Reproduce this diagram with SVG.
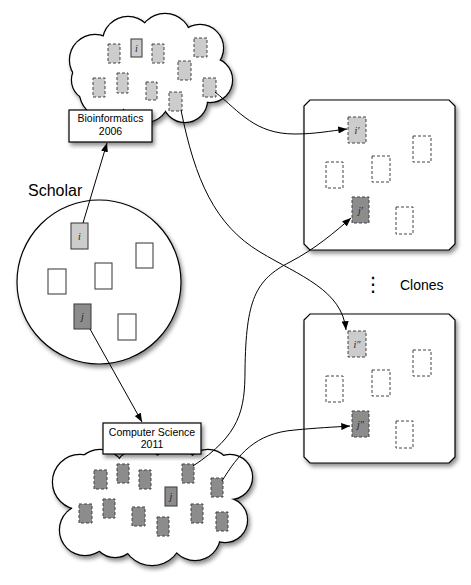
<svg xmlns="http://www.w3.org/2000/svg" xmlns:xlink="http://www.w3.org/1999/xlink" width="471" height="585" viewBox="0 0 471 585">
<style>
  .bg{fill:#fff}
  .cs{fill:#fff;stroke:#000;stroke-width:2.4}
  .cf{fill:#fff;stroke:none}
  .node{fill:#fff;stroke:#000;stroke-width:1.2}
  .sol{stroke:#444;stroke-width:1.1}
  .dash{stroke:#444;stroke-width:1;stroke-dasharray:3 2}
  .lg{fill:#cccccc}
  .dg{fill:#8c8c8c}
  .wh{fill:#fff}
  .nf{fill:none}
  .lbl{font-family:"Liberation Serif","Times New Roman",serif;font-style:italic;font-size:10px;fill:#222;text-anchor:middle}
  .box{font-family:"Liberation Sans",Arial,sans-serif;font-size:10.5px;fill:#000;text-anchor:middle}
  .big{font-family:"Liberation Sans",Arial,sans-serif;font-size:16px;fill:#000}
  .conn{fill:none;stroke:#000;stroke-width:1}
</style>
<defs>
  <filter id="sh" x="-20%" y="-20%" width="140%" height="140%">
    <feDropShadow dx="2" dy="3" stdDeviation="2" flood-color="#000" flood-opacity="0.45"/>
  </filter>
  <marker id="ah" viewBox="0 0 10 8" refX="10" refY="4" markerWidth="9" markerHeight="7" markerUnits="userSpaceOnUse" orient="auto">
    <path d="M0,0 L10,4 L0,8 z" fill="#000"/>
  </marker>
  <g id="topCloudShape">
    <circle cx="95" cy="60" r="25"/>
    <circle cx="128" cy="42" r="25"/>
    <circle cx="165" cy="40" r="26"/>
    <circle cx="200" cy="48" r="23"/>
    <circle cx="210" cy="80" r="22"/>
    <circle cx="185" cy="100" r="22"/>
    <circle cx="145" cy="98" r="24"/>
    <circle cx="105" cy="92" r="25"/>
    <circle cx="92" cy="80" r="20"/>
    <ellipse cx="150" cy="70" rx="55" ry="30"/>
  </g>
  <g id="botCloudShape">
    <circle cx="80" cy="482" r="27"/>
    <circle cx="85" cy="530" r="25"/>
    <circle cx="115" cy="535" r="22"/>
    <circle cx="152" cy="535" r="30"/>
    <circle cx="195" cy="535" r="25"/>
    <circle cx="225" cy="520" r="22"/>
    <circle cx="230" cy="477" r="22"/>
    <circle cx="100" cy="475" r="25"/>
    <circle cx="140" cy="475" r="26"/>
    <circle cx="175" cy="475" r="26"/>
    <circle cx="208" cy="473" r="23"/>
    <ellipse cx="152" cy="505" rx="80" ry="35"/>
  </g>
</defs>
<rect class="bg" x="0" y="0" width="471" height="585"/>

<g id="cloud-bioinformatics">
  <use href="#topCloudShape" class="cs" filter="url(#sh)"/>
  <use href="#topCloudShape" class="cf"/>
  <rect class="sol lg" x="131" y="39" width="11" height="18"/>
  <text class="lbl" x="136.5" y="51.5">i</text>
  <rect class="dash lg" x="108" y="44" width="12" height="19"/>
  <rect class="dash lg" x="152" y="44" width="12" height="19"/>
  <rect class="dash lg" x="194" y="38" width="13" height="19"/>
  <rect class="dash lg" x="178" y="61" width="13" height="19"/>
  <rect class="dash lg" x="117" y="73" width="11" height="20"/>
  <rect class="dash lg" x="93" y="78" width="12" height="19"/>
  <rect class="dash lg" x="146" y="82" width="11" height="18"/>
  <rect class="dash lg" x="203" y="78" width="13" height="19"/>
  <rect class="dash lg" x="169" y="92" width="13" height="19"/>
</g>

<g id="label-bioinformatics">
  <rect class="node" x="69" y="110" width="83" height="32" filter="url(#sh)"/>
  <text class="box" x="110.5" y="122">Bioinformatics</text>
  <text class="box" x="110.5" y="134.5">2006</text>
</g>

<g id="cloud-computer-science">
  <use href="#botCloudShape" class="cs" filter="url(#sh)"/>
  <use href="#botCloudShape" class="cf"/>
  <rect class="dash dg" x="94" y="470" width="13" height="19"/>
  <rect class="dash dg" x="117" y="464" width="12" height="19"/>
  <rect class="dash dg" x="139" y="470" width="12" height="19"/>
  <rect class="dash dg" x="182" y="464" width="12" height="19"/>
  <rect class="dash dg" x="211" y="478" width="12" height="19"/>
  <rect class="sol dg" x="165" y="487" width="12" height="19"/>
  <text class="lbl" x="171" y="500">j</text>
  <rect class="dash dg" x="79" y="504" width="13" height="19"/>
  <rect class="dash dg" x="103" y="499" width="12" height="19"/>
  <rect class="dash dg" x="132" y="507" width="13" height="19"/>
  <rect class="dash dg" x="157" y="517" width="12" height="19"/>
  <rect class="dash dg" x="191" y="504" width="12" height="19"/>
  <rect class="dash dg" x="216" y="512" width="12" height="19"/>
</g>

<g id="label-computer-science">
  <rect class="node" x="103" y="423" width="98" height="31" filter="url(#sh)"/>
  <text class="box" x="152" y="436">Computer Science</text>
  <text class="box" x="152" y="448">2011</text>
</g>

<g id="scholar">
  <circle class="node" cx="99" cy="282" r="82" filter="url(#sh)"/>
  <text class="big" x="28" y="196">Scholar</text>
  <rect class="sol lg" x="71" y="223" width="17" height="26"/>
  <text class="lbl" x="79.5" y="239.5">i</text>
  <rect class="sol wh" x="136" y="243" width="17" height="25"/>
  <rect class="sol wh" x="48" y="269" width="18" height="25"/>
  <rect class="sol wh" x="95" y="263" width="17" height="26"/>
  <rect class="sol dg" x="74" y="304" width="17" height="25"/>
  <text class="lbl" x="82.5" y="320">j</text>
  <rect class="sol wh" x="118" y="314" width="18" height="26"/>
</g>

<g id="clone-1">
  <path class="node" d="M310,100 H449 L455,106 V244 L449,250 H310 L304,244 V106 Z" filter="url(#sh)"/>
  <rect class="dash lg" x="348" y="117" width="18" height="26"/>
  <text class="lbl" x="357" y="133.5">i′</text>
  <rect class="dash nf" x="413" y="136" width="18" height="26"/>
  <rect class="dash nf" x="372" y="156" width="18" height="26"/>
  <rect class="dash nf" x="326" y="162" width="17" height="26"/>
  <rect class="dash dg" x="352" y="197" width="17" height="26"/>
  <text class="lbl" x="360.5" y="213.5">j′</text>
  <rect class="dash nf" x="396" y="207" width="17" height="27"/>
</g>

<g id="clone-2">
  <path class="node" d="M310,314 H449 L455,320 V457 L449,463 H310 L304,457 V320 Z" filter="url(#sh)"/>
  <rect class="dash lg" x="348" y="331" width="18" height="26"/>
  <text class="lbl" x="357" y="347.5">i″</text>
  <rect class="dash nf" x="413" y="350" width="18" height="26"/>
  <rect class="dash nf" x="372" y="370" width="18" height="26"/>
  <rect class="dash nf" x="326" y="376" width="17" height="26"/>
  <rect class="dash dg" x="352" y="411" width="17" height="26"/>
  <text class="lbl" x="360.5" y="427.5">j″</text>
  <rect class="dash nf" x="396" y="421" width="17" height="27"/>
</g>

<g id="clones-label">
  <text x="373" y="291" font-family="DejaVu Sans,sans-serif" font-size="20" text-anchor="middle">⋮</text>
  <text x="400" y="290" font-family="Liberation Sans,Arial,sans-serif" font-size="14">Clones</text>
</g>

<g id="connectors">
  <path class="conn" marker-end="url(#ah)" d="M83,223 L107,143"/>
  <path class="conn" marker-end="url(#ah)" d="M90,329 L142,422"/>
  <path class="conn" marker-end="url(#ah)" d="M215,92 C240,112 255,134 295,134 C315,134 330,131 347,129"/>
  <path class="conn" marker-end="url(#ah)" d="M181,110 C195,180 215,225 260,252 C300,276 342,290 346,330"/>
  <path class="conn" marker-end="url(#ah)" d="M193,466 C240,435 245,410 245,370 C246,300 255,280 290,262 C315,249 335,232 351,218"/>
  <path class="conn" marker-end="url(#ah)" d="M222,481 C238,455 255,433 295,430 C315,428 335,427 350,426"/>
</g>
</svg>
